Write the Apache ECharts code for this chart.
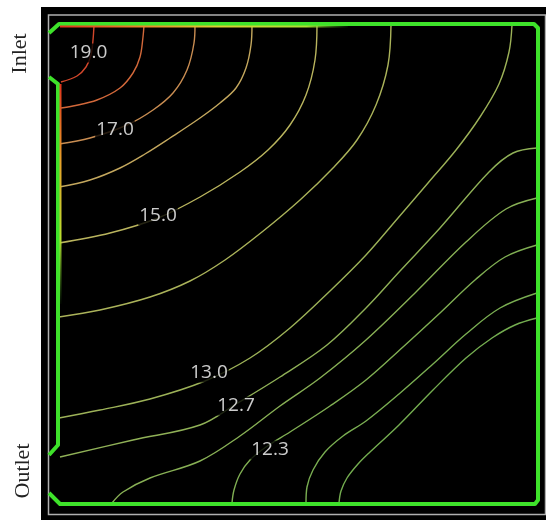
<!DOCTYPE html>
<html><head><meta charset="utf-8">
<script src="https://cdn.jsdelivr.net/npm/echarts/dist/echarts.min.js"></script>
<style>html,body{margin:0;padding:0;background:#fff}#c{width:546px;height:520px}</style>
</head><body><div id="c"></div>
<script>
// Domain coordinates (0..480 across the square cavity, y upward)
const levels = ['19.0','18.0','17.0','16.0','15.0','14.0','13.0','12.7','12.5','12.3','12.2','12.1'];
const lineColors = ['#d2472b','#d2683a','#c98d52','#c4a85e','#bab55e','#abb35a','#9db258','#90b157','#88b055','#80af53','#7aae52','#74ad50'];

const c19_0 = [[36,479],[35,464],[33,449],[28,437],[19,428],[3,422]];
const c18_0 = [[86,479],[85,467],[82,447],[75,431],[62,416],[39,404],[15,398],[3,396]];
const c17_0 = [[137,479],[136,461],[129,434],[115,411],[95,394],[69,379],[32,366],[1,360]];
const c16_0 = [[194,479],[193,459],[188,436],[178,416],[162,401],[142,386],[112,366],[87,350],[62,336],[32,324],[1,317]];
const c15_0 = [[259,479],[257,444],[248,409],[232,379],[210,354],[182,332],[142,307],[100,286],[52,271],[1,261]];
const c14_0 = [[333,479],[330,439],[318,399],[299,364],[275,336],[242,304],[204,272],[167,244],[132,223],[92,207],[42,194],[1,187]];
const c13_0 = [[454,479],[451,452],[441,420],[422,387],[398,354],[370,321],[340,286],[308,249],[272,213],[232,176],[192,146],[147,123],[92,105],[42,94],[1,86]];
const c12_7 = [[479,356],[455,351],[431,332],[382,276],[342,233],[308,196],[269,159],[222,127],[178,100],[142,79],[75,64],[2,47]];
const c12_5 = [[54,1],[65,12],[92,26],[142,43],[182,68],[222,98],[262,126],[308,164],[358,212],[408,262],[448,295],[479,306]];
const c12_3 = [[174,1],[176,14],[182,30],[192,44],[208,57],[232,72],[272,98],[308,124],[345,157],[382,191],[417,224],[447,247],[479,259]];
const c12_2 = [[248,1],[249,17],[255,34],[267,52],[285,68],[308,83],[341,110],[375,140],[408,170],[442,196],[479,211]];
const c12_1 = [[281,1],[283,13],[289,26],[300,40],[312,52],[341,79],[375,114],[408,146],[434,166],[457,179],[479,186]];
const contours = [c19_0,c18_0,c17_0,c16_0,c15_0,c14_0,c13_0,c12_7,c12_5,c12_3,c12_2,c12_1];

const labelSpots = [[30.5,451],[57,374],[100,288],[151,131],[178,98],[212,54]];
const labelTexts = ['19.0','17.0','15.0','13.0','12.7','12.3'];

const wallOuter = [[-9,471],[1,480],[476,480],[480,476],[480,4],[477,0],[2,0],[-9,11]];
const wallLeft = [[-9,427],[0,420],[0,59],[-9,49]];
const heatTop = [[2,477.5],[290,477.5]];
const heatLeft = [[2.5,420],[2.5,200]];

const chart = echarts.init(document.getElementById('c'), null, {renderer:'canvas'});
const G = echarts.graphic;
const series = [];
contours.forEach((d,i)=>{
  series.push({type:'line', name:levels[i], data:d, symbol:'none', smooth:0.35, clip:false, silent:true, z:5,
    lineStyle:{color:lineColors[i], width:1.4}});
});
series.push({type:'line', data:wallOuter, symbol:'none', clip:false, silent:true, z:6,
  lineStyle:{color:'#3ee22a', width:4, join:'round'}});
series.push({type:'line', data:wallLeft, symbol:'none', clip:false, silent:true, z:6,
  lineStyle:{color:'#3ee22a', width:4, join:'round'}});
series.push({type:'line', data:heatTop, symbol:'none', clip:false, silent:true, z:7,
  lineStyle:{width:2, color:new G.LinearGradient(0,0,1,0,[
    {offset:0,color:'#e0301c'},{offset:0.3,color:'#e88a2a'},{offset:0.55,color:'#d8d030'},{offset:0.85,color:'#a8e030'},{offset:1,color:'rgba(80,220,40,0)'}])}});
series.push({type:'line', data:heatLeft, symbol:'none', clip:false, silent:true, z:7,
  lineStyle:{width:2, color:new G.LinearGradient(0,0,0,1,[
    {offset:0,color:'#e0301c'},{offset:0.35,color:'#e8a02a'},{offset:0.7,color:'#b8e030'},{offset:1,color:'rgba(80,220,40,0)'}])}});
series.push({type:'scatter', data:labelSpots, symbolSize:2, silent:true, z:10,
  itemStyle:{color:'rgba(0,0,0,0)'},
  label:{show:true, position:'inside', formatter:p=>labelTexts[p.dataIndex], color:'#ffffff', fontSize:19,
    fontFamily:'Open Sans', backgroundColor:'#000', padding:[0,1]},
  labelLayout:{hideOverlap:false}});

chart.setOption({
  animation:false,
  backgroundColor:'#ffffff',
  grid:{left:48, right:8, top:24, bottom:16},
  xAxis:{type:'value', min:-10, max:480, show:false},
  yAxis:{type:'value', min:0, max:480, show:false},
  graphic:[
    {type:'rect', z:0, silent:true, shape:{x:41,y:7,width:505,height:513}, style:{fill:'#000'}},
    {type:'rect', z:1, silent:true, shape:{x:48.5,y:15,width:497,height:499.5}, style:{fill:'none', stroke:'#b0b0b0', lineWidth:1.5}},
    {type:'text', z:1, x:20.5, y:53.5, rotation:Math.PI/2, style:{text:'Inlet', fontSize:22, fontFamily:'Liberation Serif', fill:'#222', align:'center', verticalAlign:'middle'}},
    {type:'text', z:1, x:23, y:471, rotation:Math.PI/2, style:{text:'Outlet', fontSize:22, fontFamily:'Liberation Serif', fill:'#222', align:'center', verticalAlign:'middle'}}
  ],
  series:series
});
</script></body></html>
